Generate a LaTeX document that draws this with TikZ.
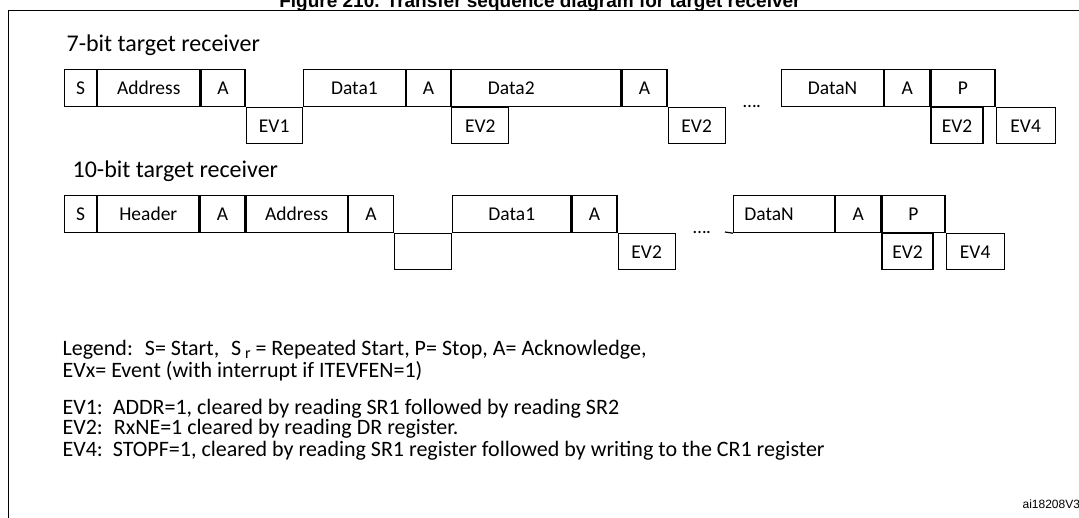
\documentclass[tikz,border=0pt]{standalone}
\usepackage{fontspec}
\setmainfont{Carlito}
\newfontfamily\titlefont{Liberation Sans}
\usetikzlibrary{positioning}

\begin{document}
\begin{tikzpicture}[x=1pt,y=-1pt,line width=1.2pt,
		seg/.style={rectangle,draw=black,inner sep=0pt,minimum height=37pt,font=\fontsize{19.5}{20}\selectfont},
		low/.style={seg,minimum height=36pt},
		caption/.style={anchor=base west,inner sep=0pt,font=\fontsize{24}{26}\selectfont},
		legend/.style={anchor=base west,inner sep=0pt,font=\fontsize{22}{24}\selectfont}]
		\useasboundingbox (0,0) rectangle (1079,518);
		% title and frame
		\node[anchor=base,inner sep=0pt,font=\titlefont\bfseries\fontsize{19}{20}\selectfont] (title) at (540,8) {Figure 210. Transfer sequence diagram for target receiver};
		\coordinate (fbl) at (8,518);
		\coordinate (ftl) at (8,11);
		\coordinate (ftr) at (1079,11);
		\draw[line width=1pt] (fbl) -- (ftl) -- (ftr);
		
		% 7-bit target receiver
		\node[caption] (cap7) at (66,52) {7-bit target receiver};
		\node[seg,anchor=north west,minimum width=32pt] (s7) at (64,69) {S};
		\node[seg,minimum width=102pt,right=0pt of s7] (addr7) {Address};
		\node[seg,minimum width=44pt,right=0pt of addr7] (a7) {A};
		\node[low,minimum width=56pt,below right=0pt of a7] (ev1) {EV1};
		\node[seg,minimum width=102pt,above right=0pt of ev1] (d1) {Data1};
		\node[seg,minimum width=44pt,right=0pt of d1] (a7b) {A};
		\node[seg,minimum width=169pt,right=0pt of a7b] (d2) {\hspace*{-50pt}Data2};
		\node[low,minimum width=57pt,below right=0pt of a7b] (ev2a) {EV2};
		\node[seg,minimum width=45pt,right=0pt of d2] (a7c) {A};
		\node[low,minimum width=57pt,below right=0pt of a7c] (ev2b) {EV2};
		\node[inner sep=0pt] (dots7) at (752,107) {\fontsize{19}{20}\selectfont\dots.};
		\node[seg,anchor=north west,minimum width=102pt] (dn7) at (781,69) {DataN};
		\node[seg,minimum width=45pt,right=0pt of dn7] (a7d) {A};
		\node[seg,minimum width=64pt,right=0pt of a7d] (p7) {P};
		\node[low,minimum width=52pt,below right=0pt of a7d] (ev2c) {EV2};
		\node[low,minimum width=59pt,below right=0pt of p7] (ev4a) {EV4};
		
		% 10-bit target receiver
		\node[caption] (cap10) at (72,178) {10-bit target receiver};
		\node[seg,anchor=north west,minimum width=32pt] (s10) at (64,195) {S};
		\node[seg,minimum width=101pt,right=0pt of s10] (hdr) {Header};
		\node[seg,minimum width=45pt,right=0pt of hdr] (a10) {A};
		\node[seg,minimum width=101pt,right=0pt of a10] (addr10) {Address};
		\node[seg,minimum width=45pt,right=0pt of addr10] (a10b) {A};
		\node[low,minimum width=57pt,below right=0pt of a10b] (gap10) {};
		\node[seg,minimum width=118pt,above right=0pt of gap10] (d10) {Data1};
		\node[seg,minimum width=45pt,right=0pt of d10] (a10c) {A};
		\node[low,minimum width=57pt,below right=0pt of a10c] (ev2d) {EV2};
		\node[inner sep=0pt] (dots10) at (702,233) {\fontsize{19}{20}\selectfont\dots.};
		\node[seg,anchor=north west,minimum width=101pt] (dn10) at (733,195) {\hspace*{-30pt}DataN};
		\coordinate (lead10) at (725,232);
		\draw (lead10) -- (dn10.south west);
		\node[seg,minimum width=45pt,right=0pt of dn10] (a10d) {A};
		\node[seg,minimum width=63pt,right=0pt of a10d] (p10) {P};
		\node[low,minimum width=51pt,below right=0pt of a10d] (ev2e) {EV2};
		\node[low,minimum width=58pt,below right=0pt of p10] (ev4b) {EV4};
		
		% legend
		\node[legend] (leg1) at (62,356) {Legend:\hspace{12pt}S= Start,\hspace{12pt}S\,\raisebox{-3pt}{\fontsize{16}{16}\selectfont r} = Repeated Start, P= Stop, A= Acknowledge,};
		\node[legend] (leg2) at (62,378) {EVx= Event (with interrupt if ITEVFEN=1)};
		\node[legend] (ev1t) at (62,414) {EV1:\hspace{10pt}ADDR=1, cleared by reading SR1 followed by reading SR2};
		\node[legend] (ev2t) at (62,435) {EV2:\hspace{11pt}RxNE=1 cleared by reading DR register.};
		\node[legend] (ev4t) at (62,456) {EV4:\hspace{10pt}STOPF=1, cleared by reading SR1 register followed by writing to the CR1 register};
		\node[anchor=base west,inner sep=0pt,font=\titlefont\fontsize{12}{13}\selectfont] (ref) at (1022,508) {ai18208V3};
\end{tikzpicture}
\end{document}
